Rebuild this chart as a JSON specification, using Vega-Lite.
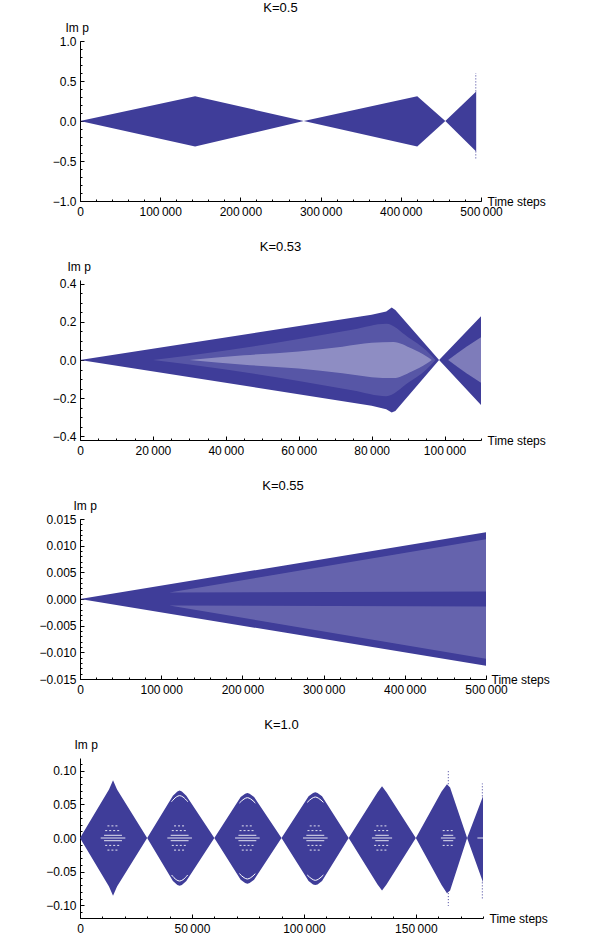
{
  "$schema": "https://vega.github.io/schema/vega-lite/v6.json",
  "background": "white",
  "padding": {"left": 38, "top": 2, "right": 5, "bottom": 5},
  "spacing": 24,
  "config": {
    "view": {"stroke": null},
    "font": "Liberation Sans",
    "title": {"font": "Liberation Sans", "fontSize": 13, "fontWeight": "normal", "color": "black", "anchor": "middle", "offset": 6},
    "axis": {
      "grid": false,
      "domainColor": "black",
      "tickColor": "black",
      "labelColor": "black",
      "titleColor": "black",
      "labelFont": "Liberation Sans",
      "titleFont": "Liberation Sans",
      "labelFontSize": 12,
      "titleFontSize": 12,
      "titleFontWeight": "normal",
      "labelFlush": false,
      "labelOverlap": false
    }
  },
  "datasets": {
    "k050": [
      {"t": 0, "hi": 0, "lo": 0},
      {"t": 143500, "hi": 0.31, "lo": -0.32},
      {"t": 279000, "hi": 0, "lo": 0},
      {"t": 420500, "hi": 0.31, "lo": -0.32},
      {"t": 455500, "hi": 0, "lo": 0},
      {"t": 494000, "hi": 0.37, "lo": -0.38}
    ],
    "k050spike": [
      {"t": 493500, "y1": 0.37, "y2": 0.6},
      {"t": 493500, "y1": -0.38, "y2": -0.47}
    ],
    "k053": [
      {"t": 0, "hi": 0, "lo": 0},
      {"t": 80000, "hi": 0.238, "lo": -0.24},
      {"t": 84000, "hi": 0.255, "lo": -0.258},
      {"t": 85500, "hi": 0.275, "lo": -0.275},
      {"t": 86500, "hi": 0.262, "lo": -0.268},
      {"t": 98500, "hi": 0, "lo": 0},
      {"t": 110000, "hi": 0.23, "lo": -0.236}
    ],
    "k053broad": [
      {"g": "b", "t": 20000, "hi": 0, "lo": 0},
      {"g": "b", "t": 40000, "hi": 0.05, "lo": -0.05},
      {"g": "b", "t": 60000, "hi": 0.11, "lo": -0.11},
      {"g": "b", "t": 75000, "hi": 0.16, "lo": -0.16},
      {"g": "b", "t": 84000, "hi": 0.19, "lo": -0.19},
      {"g": "b", "t": 90000, "hi": 0.12, "lo": -0.12},
      {"g": "b", "t": 95000, "hi": 0.05, "lo": -0.05},
      {"g": "b", "t": 97500, "hi": 0, "lo": 0}
    ],
    "k053core": [
      {"g": "c", "t": 30000, "hi": 0, "lo": 0},
      {"g": "c", "t": 45000, "hi": 0.025, "lo": -0.025},
      {"g": "c", "t": 60000, "hi": 0.045, "lo": -0.045},
      {"g": "c", "t": 72000, "hi": 0.07, "lo": -0.07},
      {"g": "c", "t": 80000, "hi": 0.09, "lo": -0.09},
      {"g": "c", "t": 86000, "hi": 0.095, "lo": -0.095},
      {"g": "c", "t": 91000, "hi": 0.06, "lo": -0.06},
      {"g": "c", "t": 95000, "hi": 0.02, "lo": -0.02},
      {"g": "c", "t": 96500, "hi": 0, "lo": 0},
      {"g": "r", "t": 101000, "hi": 0, "lo": 0},
      {"g": "r", "t": 106000, "hi": 0.07, "lo": -0.07},
      {"g": "r", "t": 110000, "hi": 0.12, "lo": -0.12}
    ],
    "k055": [
      {"t": 0, "hi": 0, "lo": 0},
      {"t": 250000, "hi": 0.00625, "lo": -0.00625},
      {"t": 500000, "hi": 0.0125, "lo": -0.0125}
    ],
    "k055lattice": [
      {"g": "u", "t": 110000, "hi": 0.0012, "lo": 0.0012},
      {"g": "u", "t": 500000, "hi": 0.0112, "lo": 0.0014},
      {"g": "l", "t": 110000, "hi": -0.0012, "lo": -0.0012},
      {"g": "l", "t": 500000, "hi": -0.0014, "lo": -0.0112}
    ],
    "k100": [
      {"t": 0, "hi": 0, "lo": 0},
      {"t": 12950, "hi": 0.072, "lo": -0.072},
      {"t": 14750, "hi": 0.086, "lo": -0.086},
      {"t": 16550, "hi": 0.072, "lo": -0.072},
      {"t": 30000, "hi": 0, "lo": 0},
      {"t": 41500, "hi": 0.063, "lo": -0.064},
      {"t": 43500, "hi": 0.069, "lo": -0.07},
      {"t": 44500, "hi": 0.0705, "lo": -0.071},
      {"t": 45500, "hi": 0.069, "lo": -0.07},
      {"t": 47500, "hi": 0.063, "lo": -0.064},
      {"t": 60000, "hi": 0, "lo": 0},
      {"t": 71760, "hi": 0.061, "lo": -0.062},
      {"t": 73760, "hi": 0.066, "lo": -0.067},
      {"t": 74760, "hi": 0.067, "lo": -0.068},
      {"t": 75760, "hi": 0.066, "lo": -0.067},
      {"t": 77760, "hi": 0.061, "lo": -0.062},
      {"t": 90000, "hi": 0, "lo": 0},
      {"t": 102100, "hi": 0.062, "lo": -0.064},
      {"t": 104100, "hi": 0.067, "lo": -0.069},
      {"t": 105100, "hi": 0.068, "lo": -0.07},
      {"t": 106100, "hi": 0.067, "lo": -0.069},
      {"t": 108100, "hi": 0.062, "lo": -0.064},
      {"t": 120000, "hi": 0, "lo": 0},
      {"t": 132900, "hi": 0.068, "lo": -0.069},
      {"t": 134900, "hi": 0.077, "lo": -0.078},
      {"t": 136900, "hi": 0.068, "lo": -0.069},
      {"t": 150000, "hi": 0, "lo": 0},
      {"t": 161500, "hi": 0.069, "lo": -0.07},
      {"t": 163900, "hi": 0.08, "lo": -0.082},
      {"t": 165300, "hi": 0.075, "lo": -0.078},
      {"t": 172900, "hi": 0, "lo": 0},
      {"t": 180000, "hi": 0.062, "lo": -0.066}
    ],
    "k100spike": [
      {"t": 164500, "y1": 0.08, "y2": 0.0995},
      {"t": 164500, "y1": -0.082, "y2": -0.101},
      {"t": 179700, "y1": 0.062, "y2": 0.081},
      {"t": 179700, "y1": -0.066, "y2": -0.091}
    ],
    "k100gaps": [
      {"t": 9250, "t2": 20250, "y": 0},
      {"t": 10750, "t2": 18750, "y": 0.004},
      {"t": 10750, "t2": 18750, "y": -0.004},
      {"t": 39000, "t2": 50000, "y": 0},
      {"t": 40500, "t2": 48500, "y": 0.004},
      {"t": 40500, "t2": 48500, "y": -0.004},
      {"t": 69260, "t2": 80260, "y": 0},
      {"t": 70760, "t2": 78760, "y": 0.004},
      {"t": 70760, "t2": 78760, "y": -0.004},
      {"t": 99600, "t2": 110600, "y": 0},
      {"t": 101100, "t2": 109100, "y": 0.004},
      {"t": 101100, "t2": 109100, "y": -0.004},
      {"t": 130400, "t2": 139400, "y": 0},
      {"t": 131900, "t2": 137900, "y": 0.004},
      {"t": 131900, "t2": 137900, "y": -0.004},
      {"t": 161200, "t2": 167700, "y": 0},
      {"t": 162200, "t2": 166700, "y": 0.004},
      {"t": 162200, "t2": 166700, "y": -0.004},
      {"t": 177500, "t2": 180000, "y": 0}
    ],
    "k100dots": [
      {"t": 11250, "t2": 18250, "y": 0.011},
      {"t": 11250, "t2": 18250, "y": -0.011},
      {"t": 12250, "t2": 17250, "y": 0.018},
      {"t": 12250, "t2": 17250, "y": -0.018},
      {"t": 41000, "t2": 48000, "y": 0.011},
      {"t": 41000, "t2": 48000, "y": -0.011},
      {"t": 42000, "t2": 47000, "y": 0.018},
      {"t": 42000, "t2": 47000, "y": -0.018},
      {"t": 71260, "t2": 78260, "y": 0.011},
      {"t": 71260, "t2": 78260, "y": -0.011},
      {"t": 72260, "t2": 77260, "y": 0.018},
      {"t": 72260, "t2": 77260, "y": -0.018},
      {"t": 101600, "t2": 108600, "y": 0.011},
      {"t": 101600, "t2": 108600, "y": -0.011},
      {"t": 102600, "t2": 107600, "y": 0.018},
      {"t": 102600, "t2": 107600, "y": -0.018},
      {"t": 131400, "t2": 138400, "y": 0.011},
      {"t": 131400, "t2": 138400, "y": -0.011},
      {"t": 132400, "t2": 137400, "y": 0.018},
      {"t": 132400, "t2": 137400, "y": -0.018},
      {"t": 162000, "t2": 167000, "y": 0.011},
      {"t": 162000, "t2": 167000, "y": -0.011}
    ],
    "k100arcs": [
      {"g": "a2u", "t": 40900, "y": 0.054},
      {"g": "a2u", "t": 43000, "y": 0.061},
      {"g": "a2u", "t": 44500, "y": 0.063},
      {"g": "a2u", "t": 46000, "y": 0.061},
      {"g": "a2u", "t": 48100, "y": 0.054},
      {"g": "a2l", "t": 40900, "y": -0.055},
      {"g": "a2l", "t": 43000, "y": -0.062},
      {"g": "a2l", "t": 44500, "y": -0.064},
      {"g": "a2l", "t": 46000, "y": -0.062},
      {"g": "a2l", "t": 48100, "y": -0.055},
      {"g": "a3u", "t": 71200, "y": 0.052},
      {"g": "a3u", "t": 73260, "y": 0.058},
      {"g": "a3u", "t": 74760, "y": 0.06},
      {"g": "a3u", "t": 76260, "y": 0.058},
      {"g": "a3u", "t": 78300, "y": 0.052},
      {"g": "a3l", "t": 71200, "y": -0.053},
      {"g": "a3l", "t": 73260, "y": -0.059},
      {"g": "a3l", "t": 74760, "y": -0.061},
      {"g": "a3l", "t": 76260, "y": -0.059},
      {"g": "a3l", "t": 78300, "y": -0.053},
      {"g": "a4u", "t": 101500, "y": 0.053},
      {"g": "a4u", "t": 103600, "y": 0.059},
      {"g": "a4u", "t": 105100, "y": 0.061},
      {"g": "a4u", "t": 106600, "y": 0.059},
      {"g": "a4u", "t": 108700, "y": 0.053},
      {"g": "a4l", "t": 101500, "y": -0.055},
      {"g": "a4l", "t": 103600, "y": -0.061},
      {"g": "a4l", "t": 105100, "y": -0.063},
      {"g": "a4l", "t": 106600, "y": -0.061},
      {"g": "a4l", "t": 108700, "y": -0.055}
    ]
  },
  "vconcat": [
    {
      "title": "K=0.5",
      "width": 401,
      "height": 160,
      "resolve": {"axis": {"x": "independent", "y": "independent"}},
      "layer": [
        {
          "data": {"name": "k050"},
          "mark": {"type": "area", "color": "#3f3d99", "opacity": 1},
          "encoding": {
            "x": {"field": "t", "type": "quantitative", "scale": {"domain": [0, 500000], "nice": false},
              "axis": {"orient": "bottom", "values": [0, 100000, 200000, 300000, 400000, 500000], "tickSize": -4, "labelPadding": 9,
                "labelExpr": "replace(format(datum.value, ','), ',', '\u2009')",
                "title": "Time steps", "titleX": 407, "titleY": 0, "titleAlign": "left", "titleBaseline": "middle", "titleAngle": 0}},
            "y": {"field": "hi", "type": "quantitative", "scale": {"domain": [-1, 1], "nice": false},
              "axis": {"orient": "left", "values": [-1, -0.5, 0, 0.5, 1], "format": ".1f", "tickSize": -4, "labelPadding": 8,
                "title": "Im p", "titleAngle": 0, "titleX": -15, "titleY": -14, "titleAlign": "left", "titleBaseline": "middle"}},
            "y2": {"field": "lo"}
          }
        },
        {
          "data": {"name": "k050spike"},
          "mark": {"type": "rule", "color": "#3f3d99", "strokeDash": [1, 2]},
          "encoding": {
            "x": {"field": "t", "type": "quantitative", "scale": {"domain": [0, 500000], "nice": false},
              "axis": {"orient": "bottom", "values": [0, 20000, 40000, 60000, 80000, 100000, 120000, 140000, 160000, 180000, 200000, 220000, 240000, 260000, 280000, 300000, 320000, 340000, 360000, 380000, 400000, 420000, 440000, 460000, 480000, 500000], "tickSize": -2, "labels": false, "domain": false, "title": null}},
            "y": {"field": "y1", "type": "quantitative", "scale": {"domain": [-1, 1], "nice": false},
              "axis": {"orient": "left", "values": [-1, -0.9, -0.8, -0.7, -0.6, -0.5, -0.4, -0.3, -0.2, -0.1, 0, 0.1, 0.2, 0.3, 0.4, 0.5, 0.6, 0.7, 0.8, 0.9, 1], "tickSize": -2, "labels": false, "domain": false, "title": null}},
            "y2": {"field": "y2"}
          }
        }
      ]
    },
    {
      "title": "K=0.53",
      "width": 401,
      "height": 160,
      "resolve": {"axis": {"x": "independent", "y": "independent"}},
      "layer": [
        {
          "data": {"name": "k053"},
          "mark": {"type": "area", "color": "#3f3d99", "opacity": 1},
          "encoding": {
            "x": {"field": "t", "type": "quantitative", "scale": {"domain": [0, 110000], "nice": false},
              "axis": {"orient": "bottom", "values": [0, 20000, 40000, 60000, 80000, 100000], "tickSize": -4, "labelPadding": 9,
                "labelExpr": "replace(format(datum.value, ','), ',', '\u2009')",
                "title": "Time steps", "titleX": 407, "titleY": 0, "titleAlign": "left", "titleBaseline": "middle", "titleAngle": 0}},
            "y": {"field": "hi", "type": "quantitative", "scale": {"domain": [-0.42, 0.42], "nice": false},
              "axis": {"orient": "left", "values": [-0.4, -0.2, 0, 0.2, 0.4], "format": ".1f", "tickSize": -4, "labelPadding": 8,
                "title": "Im p", "titleAngle": 0, "titleX": -13, "titleY": -14, "titleAlign": "left", "titleBaseline": "middle"}},
            "y2": {"field": "lo"}
          }
        },
        {
          "data": {"name": "k053broad"},
          "mark": {"type": "area", "color": "white", "opacity": 0.13, "interpolate": "monotone"},
          "encoding": {
            "x": {"field": "t", "type": "quantitative", "scale": {"domain": [0, 110000], "nice": false},
              "axis": {"orient": "bottom", "values": [0, 5000, 10000, 15000, 20000, 25000, 30000, 35000, 40000, 45000, 50000, 55000, 60000, 65000, 70000, 75000, 80000, 85000, 90000, 95000, 100000, 105000, 110000], "tickSize": -2, "labels": false, "domain": false, "title": null}},
            "y": {"field": "hi", "type": "quantitative", "scale": {"domain": [-0.42, 0.42], "nice": false},
              "axis": {"orient": "left", "values": [-0.4, -0.35, -0.3, -0.25, -0.2, -0.15, -0.1, -0.05, 0, 0.05, 0.1, 0.15, 0.2, 0.25, 0.3, 0.35, 0.4], "tickSize": -2, "labels": false, "domain": false, "title": null}},
            "y2": {"field": "lo"},
            "detail": {"field": "g"}
          }
        },
        {
          "data": {"name": "k053core"},
          "mark": {"type": "area", "color": "white", "opacity": 0.33, "interpolate": "monotone"},
          "encoding": {
            "x": {"field": "t", "type": "quantitative", "scale": {"domain": [0, 110000], "nice": false}, "axis": null},
            "y": {"field": "hi", "type": "quantitative", "scale": {"domain": [-0.42, 0.42], "nice": false}, "axis": null},
            "y2": {"field": "lo"},
            "detail": {"field": "g"}
          }
        }
      ]
    },
    {
      "title": "K=0.55",
      "width": 406,
      "height": 160,
      "resolve": {"axis": {"x": "independent", "y": "independent"}},
      "layer": [
        {
          "data": {"name": "k055"},
          "mark": {"type": "area", "color": "#3f3d99", "opacity": 1},
          "encoding": {
            "x": {"field": "t", "type": "quantitative", "scale": {"domain": [0, 500000], "nice": false},
              "axis": {"orient": "bottom", "values": [0, 100000, 200000, 300000, 400000, 500000], "tickSize": -4, "labelPadding": 9,
                "labelExpr": "replace(format(datum.value, ','), ',', '\u2009')",
                "title": "Time steps", "titleX": 411, "titleY": 0, "titleAlign": "left", "titleBaseline": "middle", "titleAngle": 0}},
            "y": {"field": "hi", "type": "quantitative", "scale": {"domain": [-0.015, 0.015], "nice": false},
              "axis": {"orient": "left", "values": [-0.015, -0.01, -0.005, 0, 0.005, 0.01, 0.015], "format": ".3f", "tickSize": -4, "labelPadding": 8,
                "title": "Im p", "titleAngle": 0, "titleX": -7, "titleY": -14, "titleAlign": "left", "titleBaseline": "middle"}},
            "y2": {"field": "lo"}
          }
        },
        {
          "data": {"name": "k055lattice"},
          "mark": {"type": "area", "color": "white", "opacity": 0.2},
          "encoding": {
            "x": {"field": "t", "type": "quantitative", "scale": {"domain": [0, 500000], "nice": false},
              "axis": {"orient": "bottom", "values": [0, 20000, 40000, 60000, 80000, 100000, 120000, 140000, 160000, 180000, 200000, 220000, 240000, 260000, 280000, 300000, 320000, 340000, 360000, 380000, 400000, 420000, 440000, 460000, 480000, 500000], "tickSize": -2, "labels": false, "domain": false, "title": null}},
            "y": {"field": "hi", "type": "quantitative", "scale": {"domain": [-0.015, 0.015], "nice": false},
              "axis": {"orient": "left", "values": [-0.015, -0.014, -0.013, -0.012, -0.011, -0.01, -0.009, -0.008, -0.007, -0.006, -0.005, -0.004, -0.003, -0.002, -0.001, 0, 0.001, 0.002, 0.003, 0.004, 0.005, 0.006, 0.007, 0.008, 0.009, 0.01, 0.011, 0.012, 0.013, 0.014, 0.015], "tickSize": -2, "labels": false, "domain": false, "title": null}},
            "y2": {"field": "lo"},
            "detail": {"field": "g"}
          }
        }
      ]
    },
    {
      "title": "K=1.0",
      "width": 403,
      "height": 160,
      "resolve": {"axis": {"x": "independent", "y": "independent"}},
      "layer": [
        {
          "data": {"name": "k100"},
          "mark": {"type": "area", "color": "#3f3d99", "opacity": 1},
          "encoding": {
            "x": {"field": "t", "type": "quantitative", "scale": {"domain": [0, 180000], "nice": false},
              "axis": {"orient": "bottom", "values": [0, 50000, 100000, 150000], "tickSize": -4, "labelPadding": 9,
                "labelExpr": "replace(format(datum.value, ','), ',', '\u2009')",
                "title": "Time steps", "titleX": 409, "titleY": 0, "titleAlign": "left", "titleBaseline": "middle", "titleAngle": 0}},
            "y": {"field": "hi", "type": "quantitative", "scale": {"domain": [-0.119, 0.119], "nice": false},
              "axis": {"orient": "left", "values": [-0.1, -0.05, 0, 0.05, 0.1], "format": ".2f", "tickSize": -4, "labelPadding": 8,
                "title": "Im p", "titleAngle": 0, "titleX": -6, "titleY": -14, "titleAlign": "left", "titleBaseline": "middle"}},
            "y2": {"field": "lo"}
          }
        },
        {
          "data": {"name": "k100spike"},
          "mark": {"type": "rule", "color": "#3f3d99", "strokeDash": [1, 2]},
          "encoding": {
            "x": {"field": "t", "type": "quantitative", "scale": {"domain": [0, 180000], "nice": false},
              "axis": {"orient": "bottom", "values": [0, 10000, 20000, 30000, 40000, 50000, 60000, 70000, 80000, 90000, 100000, 110000, 120000, 130000, 140000, 150000, 160000, 170000, 180000], "tickSize": -2, "labels": false, "domain": false, "title": null}},
            "y": {"field": "y1", "type": "quantitative", "scale": {"domain": [-0.119, 0.119], "nice": false},
              "axis": {"orient": "left", "values": [-0.11, -0.1, -0.09, -0.08, -0.07, -0.06, -0.05, -0.04, -0.03, -0.02, -0.01, 0, 0.01, 0.02, 0.03, 0.04, 0.05, 0.06, 0.07, 0.08, 0.09, 0.1, 0.11], "tickSize": -2, "labels": false, "domain": false, "title": null}},
            "y2": {"field": "y2"}
          }
        },
        {
          "data": {"name": "k100gaps"},
          "mark": {"type": "rule", "color": "white", "strokeWidth": 1, "opacity": 0.85},
          "encoding": {
            "x": {"field": "t", "type": "quantitative", "scale": {"domain": [0, 180000], "nice": false}, "axis": null},
            "x2": {"field": "t2"},
            "y": {"field": "y", "type": "quantitative", "scale": {"domain": [-0.119, 0.119], "nice": false}, "axis": null}
          }
        },
        {
          "data": {"name": "k100dots"},
          "mark": {"type": "rule", "color": "white", "strokeWidth": 1, "strokeDash": [2, 2], "opacity": 0.85},
          "encoding": {
            "x": {"field": "t", "type": "quantitative", "scale": {"domain": [0, 180000], "nice": false}, "axis": null},
            "x2": {"field": "t2"},
            "y": {"field": "y", "type": "quantitative", "scale": {"domain": [-0.119, 0.119], "nice": false}, "axis": null}
          }
        },
        {
          "data": {"name": "k100arcs"},
          "mark": {"type": "line", "color": "white", "strokeWidth": 1, "interpolate": "monotone"},
          "encoding": {
            "x": {"field": "t", "type": "quantitative", "scale": {"domain": [0, 180000], "nice": false}, "axis": null},
            "y": {"field": "y", "type": "quantitative", "scale": {"domain": [-0.119, 0.119], "nice": false}, "axis": null},
            "detail": {"field": "g"}
          }
        }
      ]
    }
  ]
}
